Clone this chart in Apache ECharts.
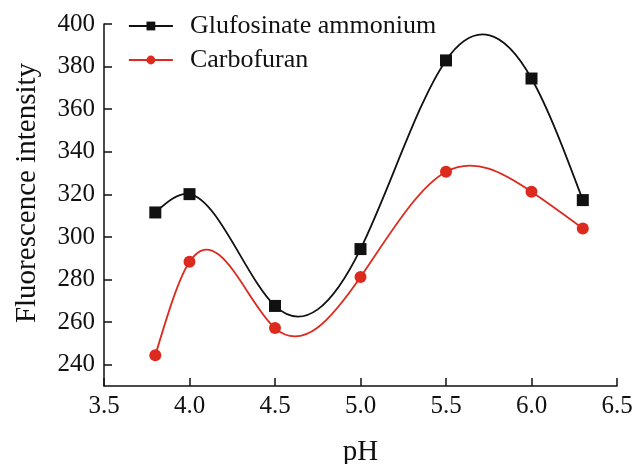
<!DOCTYPE html>
<html>
<head>
<meta charset="utf-8">
<script src="https://cdn.jsdelivr.net/npm/echarts@6/dist/echarts.min.js"></script>
<style type="text/css">
    body{ margin:0; background:#fff; }
    div.mychart{ width:635px; height:464px; }
</style>
</head>
<body>
<div id="main" class="mychart"></div>
<script>
var ph = [3.8, 4.0, 4.5, 5.0, 5.5, 6.0, 6.3];
var glufosinate = [311.5, 320.1, 267.6, 294.3, 382.9, 374.4, 317.3];
var carbofuran = [244.4, 288.3, 257.2, 281.2, 330.6, 321.2, 304.0];
var yTicks = [240, 260, 280, 300, 320, 340, 360, 380, 400];

function pairs(xs, ys){
    var out = [];
    for(var i = 0; i < xs.length; i++){
        out.push([xs[i], ys[i]]);
    }
    return out;
}

// natural cubic spline -> end slopes of every piece (for bezier control points)
function splineSlopes(xs, ys){
    var n = xs.length, h = [], M = [], i;
    for(i = 0; i < n - 1; i++) h.push(xs[i+1] - xs[i]);
    // tridiagonal system for second derivatives, M[0] = M[n-1] = 0
    var a = [], b = [], c = [], d = [];
    for(i = 1; i < n - 1; i++){
        a.push(h[i-1]);
        b.push(2 * (h[i-1] + h[i]));
        c.push(h[i]);
        d.push(6 * ((ys[i+1] - ys[i]) / h[i] - (ys[i] - ys[i-1]) / h[i-1]));
    }
    var m = b.length;
    for(i = 1; i < m; i++){
        var w = a[i] / b[i-1];
        b[i] -= w * c[i-1];
        d[i] -= w * d[i-1];
    }
    var inner = new Array(m);
    for(i = m - 1; i >= 0; i--){
        inner[i] = (d[i] - (i < m - 1 ? c[i] * inner[i+1] : 0)) / b[i];
    }
    M = [0].concat(inner, [0]);
    var seg = [];
    for(i = 0; i < n - 1; i++){
        var s = (ys[i+1] - ys[i]) / h[i];
        seg.push([s - h[i] * (2 * M[i] + M[i+1]) / 6, s + h[i] * (M[i] + 2 * M[i+1]) / 6]);
    }
    return seg;
}

function splineSeries(name, xs, ys, color){
    var seg = splineSlopes(xs, ys);
    return {
        name: name,
        type: 'custom',
        z: 1,
        silent: true,
        data: pairs(xs, ys),
        encode: { x: 0, y: 1 },
        renderItem: function(params, api){
            var i = params.dataIndex;
            if(i >= xs.length - 1) return null;
            var hh = xs[i+1] - xs[i];
            var p0 = api.coord([xs[i], ys[i]]);
            var p1 = api.coord([xs[i+1], ys[i+1]]);
            var c1 = api.coord([xs[i] + hh / 3, ys[i] + seg[i][0] * hh / 3]);
            var c2 = api.coord([xs[i+1] - hh / 3, ys[i+1] - seg[i][1] * hh / 3]);
            return {
                type: 'bezierCurve',
                shape: { x1: p0[0], y1: p0[1], x2: p1[0], y2: p1[1],
                         cpx1: c1[0], cpy1: c1[1], cpx2: c2[0], cpy2: c2[1] },
                style: { stroke: color, lineWidth: 1.8, fill: null }
            };
        }
    };
}

var font = "Liberation Serif";
var black = '#111';
var red = '#dd2a1e';
var myChart = echarts.init(document.getElementById("main"));
var option = {
    animation: false,
    textStyle: { fontFamily: font },
    grid: { left: 104, right: 18, top: 24, bottom: 78, outerBoundsMode: 'none', containLabel: false },
    legend: {
        orient: 'vertical',
        left: 123,
        top: 8,
        itemWidth: 44,
        itemHeight: 11,
        itemGap: 8,
        lineStyle: { width: 1.8, opacity: 1 },
        textStyle: { fontFamily: font, fontSize: 26, color: black, padding: [0, 0, 0, 12] },
        data: ['Glufosinate ammonium', 'Carbofuran']
    },
    xAxis: {
        type: 'value',
        min: 3.5,
        max: 6.5,
        interval: 0.5,
        name: 'pH',
        nameLocation: 'middle',
        nameGap: 52,
        nameTextStyle: { fontFamily: font, fontSize: 29, color: black },
        axisLine: { lineStyle: { color: black, width: 1.5 } },
        axisTick: { inside: true, length: 8, lineStyle: { color: black, width: 1.5 } },
        axisLabel: {
            margin: 8,
            fontFamily: font, fontSize: 25, color: black,
            formatter: function(v){ return v.toFixed(1); }
        },
        splitLine: { show: false }
    },
    yAxis: {
        type: 'value',
        min: 230,
        max: 400,
        interval: 10,
        name: 'Fluorescence intensity',
        nameLocation: 'middle',
        nameGap: 62,
        nameTextStyle: { fontFamily: font, fontSize: 29, color: black, padding: [0, 0, 0, 24] },
        axisLine: { show: true, lineStyle: { color: black, width: 1.5 } },
        axisTick: { show: true, inside: true, length: 8, customValues: yTicks, lineStyle: { color: black, width: 1.5 } },
        axisLabel: { margin: 9, fontFamily: font, fontSize: 25, color: black, customValues: yTicks },
        splitLine: { show: false }
    },
    series: [
        splineSeries('g-curve', ph, glufosinate, black),
        splineSeries('c-curve', ph, carbofuran, red),
        {
            name: 'Glufosinate ammonium',
            type: 'line',
            z: 3,
            symbol: 'rect',
            symbolSize: 12,
            itemStyle: { color: black },
            lineStyle: { color: black, width: 0, opacity: 0 },
            data: pairs(ph, glufosinate)
        },
        {
            name: 'Carbofuran',
            type: 'line',
            z: 3,
            symbol: 'circle',
            symbolSize: 12,
            itemStyle: { color: red },
            lineStyle: { color: red, width: 0, opacity: 0 },
            data: pairs(ph, carbofuran)
        }
    ]
};
myChart.setOption(option);
</script>
</body>
</html>
